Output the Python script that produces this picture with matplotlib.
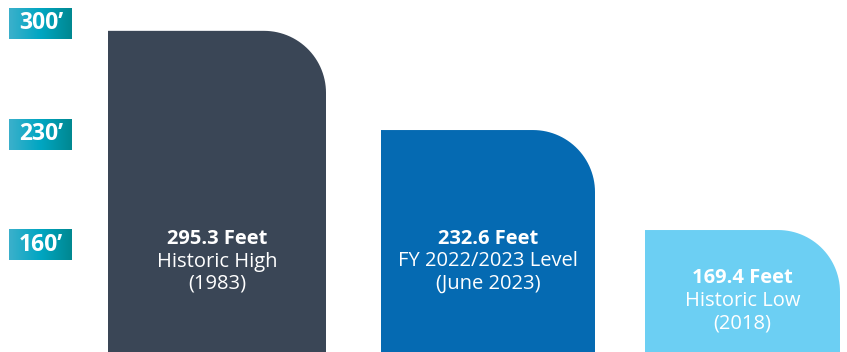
import numpy as np
import matplotlib.pyplot as plt
from matplotlib.patches import Polygon
from matplotlib.colors import LinearSegmentedColormap

plt.rcParams['font.family'] = ['Open Sans', 'DejaVu Sans']

# data
levels = [295.3, 232.6, 169.4]
titles = ["Historic High", "FY 2022/2023 Level", "Historic Low"]
dates = ["(1983)", "(June 2023)", "(2018)"]
ticks = [300, 230, 160]
tick_labels = ["300\u2019", "230\u2019", "160\u2019"]

# layout (x in pixels, y in feet)
bar_left = [108, 381, 645]
bar_width = [218, 214, 195]
bar_colors = ["#3a4656", "#056ab2", "#6ccff3"]
text_y = [239, 239, 278]  # pixel row of first text line
px_per_ft = 1.582
H = 352
ymax = 314.8
ymin = ymax - H / px_per_ft
radius = 62


def px_to_ft(py):
    return ymax - py / px_per_ft


def rounded_bar(ax, x0, w, top, color):
    # bar with only the top-right corner rounded
    ry = radius / px_per_ft
    pts = [(x0, ymin), (x0, top), (x0 + w - radius, top)]
    for t in np.linspace(np.pi / 2, 0, 30):
        pts.append((x0 + w - radius + radius * np.cos(t), top - ry + ry * np.sin(t)))
    pts.append((x0 + w, ymin))
    ax.add_patch(Polygon(pts, closed=True, facecolor=color, edgecolor="none"))


fig = plt.figure(figsize=(8.47, 3.52), dpi=100)
ax = fig.add_axes([0, 0, 1, 1])
ax.axis("off")

for i in range(len(levels)):
    rounded_bar(ax, bar_left[i], bar_width[i], levels[i], bar_colors[i])
    cx = bar_left[i] + bar_width[i] / 2
    y0 = text_y[i]
    ax.text(cx, px_to_ft(y0), f"{levels[i]} Feet", color="white", fontsize=14.5,
            fontweight="bold", ha="center", va="center")
    ax.text(cx, px_to_ft(y0 + 22.5), titles[i], color="white", fontsize=14.5,
            ha="center", va="center")
    ax.text(cx, px_to_ft(y0 + 45), dates[i], color="white", fontsize=14.5,
            ha="center", va="center")

cmap = LinearSegmentedColormap.from_list("tick", ["#3bb0cb", "#00a6c2", "#008891"])
grad = np.linspace(0, 1, 100).reshape(1, -1)
box_h = 31 / px_per_ft
for v, lab in zip(ticks, tick_labels):
    ax.imshow(grad, cmap=cmap, aspect="auto", extent=(9, 72, v - box_h / 2, v + box_h / 2),
              zorder=2)
    ax.text(41, v, lab, color="white", fontsize=16.5, fontweight="bold",
            ha="center", va="center", zorder=3)

ax.set_xlim(0, 847)
ax.set_ylim(ymin, ymax)
fig.savefig("out.png", dpi=100)
